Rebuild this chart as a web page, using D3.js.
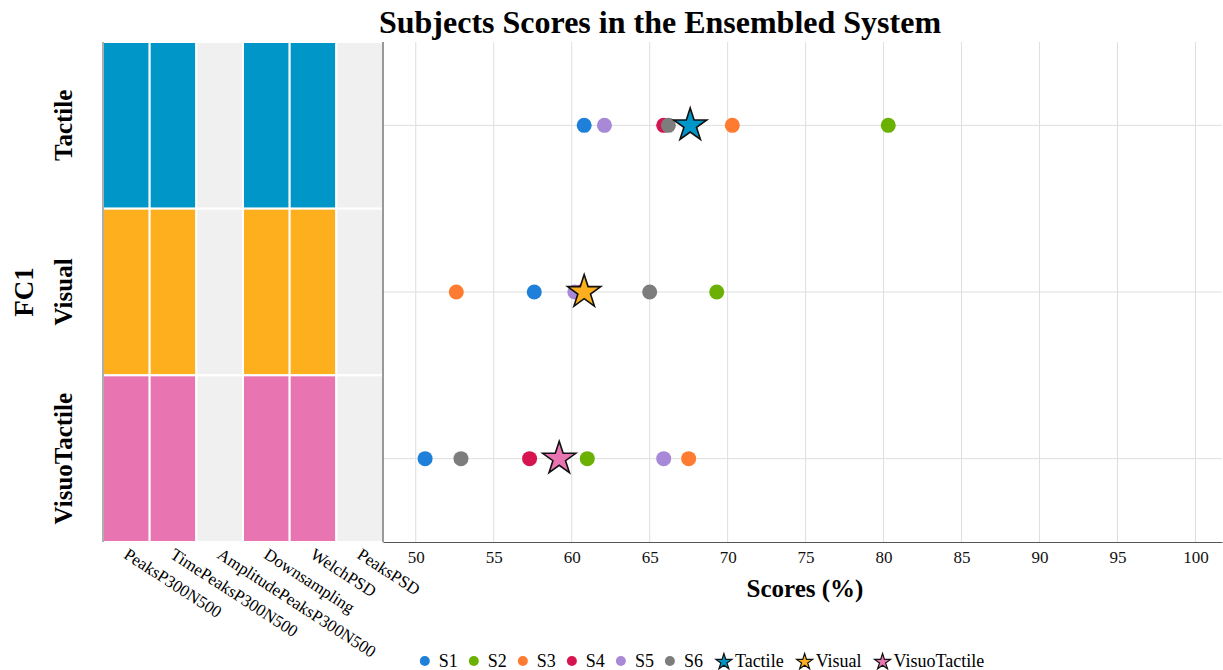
<!DOCTYPE html>
<html>
<head>
<meta charset="utf-8">
<script src="https://cdn.jsdelivr.net/npm/d3@7"></script>
<style>
  html, body { margin: 0; padding: 0; background: #fff; }
  svg { display: block; font-family: "Liberation Serif", "DejaVu Serif", serif; }
</style>
</head>
<body>
<svg id="chart" width="1223" height="670"></svg>
<script>
// Feature-set usage per modality (1 = used, 0 = not used)
const modalities = ["Tactile", "Visual", "VisuoTactile"];
const features = ["PeaksP300N500", "TimePeaksP300N500", "AmplitudePeaksP300N500", "Downsampling", "WelchPSD", "PeaksPSD"];
const usageTactile = [1, 1, 0, 1, 1, 0];
const usageVisual = [1, 1, 0, 1, 1, 0];
const usageVisuoTactile = [1, 1, 0, 1, 1, 0];

// Subject scores (%) per modality
const subjects = ["S1", "S2", "S3", "S4", "S5", "S6"];
const scoresTactile = [60.8, 80.3, 70.3, 65.9, 62.1, 66.2];
const scoresVisual = [57.6, 69.3, 52.6, 60.6, 60.2, 65.0];
const scoresVisuoTactile = [50.6, 61.0, 67.5, 57.3, 65.9, 52.9];
// Ensembled system score per modality
const systemScores = [67.6, 60.8, 59.2];

const xTicks = [50, 55, 60, 65, 70, 75, 80, 85, 90, 95, 100];

const subjectColors = ["#1e80d8", "#6ab104", "#fe7c31", "#d61450", "#a889d7", "#7d7d7d"];
const modalityColors = ["#0097c8", "#fdaf1e", "#e875b2"];
const offColor = "#f0f0f0";

const usage = [usageTactile, usageVisual, usageVisuoTactile];
const scores = [scoresTactile, scoresVisual, scoresVisuoTactile];

const svg = d3.select("#chart");

const plotTop = 42, plotBottom = 542;
const hmLeft = 103, hmRight = 383;
const spLeft = 383, spRight = 1222;

const y = d3.scaleBand().domain(modalities).range([plotTop, plotBottom]);
const xc = d3.scaleBand().domain(features).range([hmLeft, hmRight]);
const x = d3.scaleLinear().domain([47.9, 101.7]).range([spLeft, spRight]);

// Title
svg.append("text")
  .attr("x", 660).attr("y", 33)
  .attr("text-anchor", "middle")
  .attr("font-size", 32).attr("font-weight", "bold")
  .text("Subjects Scores in the Ensembled System");

// Heatmap cells
const cells = [];
modalities.forEach((m, i) => features.forEach((f, j) => cells.push({ m, f, i, on: usage[i][j] })));
svg.append("g").selectAll("rect").data(cells).join("rect")
  .attr("x", d => xc(d.f))
  .attr("y", d => y(d.m))
  .attr("width", xc.bandwidth())
  .attr("height", y.bandwidth())
  .attr("fill", d => d.on ? modalityColors[d.i] : offColor)
  .attr("stroke", "#fff").attr("stroke-width", 2);

// Heatmap left border
svg.append("line")
  .attr("x1", hmLeft).attr("x2", hmLeft).attr("y1", plotTop).attr("y2", plotBottom)
  .attr("stroke", "#777").attr("stroke-width", 1.2);

// Feature labels (rotated)
svg.append("g").selectAll("text").data(features).join("text")
  .attr("transform", d => `translate(${xc(d) + xc.bandwidth() / 2 + 3},${plotBottom + 5}) rotate(33)`)
  .attr("dy", "0.72em")
  .attr("font-size", 17)
  .text(d => d);

// Modality labels
svg.append("g").selectAll("text").data(modalities).join("text")
  .attr("transform", d => `translate(72,${y(d) + y.bandwidth() / 2}) rotate(-90)`)
  .attr("text-anchor", "middle")
  .attr("font-size", 25).attr("font-weight", "bold")
  .text(d => d);

svg.append("text")
  .attr("transform", `translate(33,${(plotTop + plotBottom) / 2}) rotate(-90)`)
  .attr("text-anchor", "middle")
  .attr("font-size", 27).attr("font-weight", "bold")
  .text("FC1");

// Scatter grid
const grid = svg.append("g");
grid.selectAll("line.v").data(xTicks).join("line").attr("class", "v")
  .attr("x1", d => x(d)).attr("x2", d => x(d))
  .attr("y1", plotTop).attr("y2", plotBottom)
  .attr("stroke", "#dedede").attr("stroke-width", 1);
grid.selectAll("line.h").data(modalities).join("line").attr("class", "h")
  .attr("x1", spLeft).attr("x2", spRight)
  .attr("y1", d => y(d) + y.bandwidth() / 2).attr("y2", d => y(d) + y.bandwidth() / 2)
  .attr("stroke", "#dedede").attr("stroke-width", 1);

// Axes
const xAxis = d3.axisBottom(x).tickValues(xTicks).tickSize(0).tickPadding(9);
const gx = svg.append("g").attr("transform", `translate(0,${plotBottom})`).call(xAxis);
gx.select(".domain").attr("stroke", "#555").attr("stroke-width", 1.2);
gx.selectAll("text").attr("font-size", 17).attr("font-family", "Liberation Serif").attr("fill", "#111");

svg.append("line")
  .attr("x1", spLeft).attr("x2", spLeft).attr("y1", plotTop).attr("y2", plotBottom)
  .attr("stroke", "#555").attr("stroke-width", 1.2);

svg.append("text")
  .attr("x", 805).attr("y", 597)
  .attr("text-anchor", "middle")
  .attr("font-size", 25).attr("font-weight", "bold")
  .text("Scores (%)");

// Subject points
const points = [];
modalities.forEach((m, i) => subjects.forEach((s, k) => points.push({ m, k, v: scores[i][k] })));
svg.append("g").selectAll("circle").data(points).join("circle")
  .attr("cx", d => x(d.v))
  .attr("cy", d => y(d.m) + y.bandwidth() / 2)
  .attr("r", 7.5)
  .attr("fill", d => subjectColors[d.k]);

// System score stars
const star = d3.symbol().type(d3.symbolStar).size(340);
svg.append("g").selectAll("path").data(modalities).join("path")
  .attr("transform", (d, i) => `translate(${x(systemScores[i])},${y(d) + y.bandwidth() / 2})`)
  .attr("d", star)
  .attr("fill", (d, i) => modalityColors[i])
  .attr("stroke", "#111").attr("stroke-width", 1.6);

// Legend
const legendItems = subjects.map((s, k) => ({ label: s, type: "dot", color: subjectColors[k] }))
  .concat(modalities.map((m, i) => ({ label: m, type: "star", color: modalityColors[i] })));
const legend = svg.append("g").attr("font-size", 18);
let lx = 0;
const ly = 661;
const items = legend.selectAll("g").data(legendItems).join("g");
items.each(function (d) {
  const g = d3.select(this);
  let tx;
  if (d.type === "dot") {
    g.append("circle").attr("cx", 5).attr("cy", 0).attr("r", 5).attr("fill", d.color);
    tx = 19;
  } else {
    g.append("path").attr("d", d3.symbol().type(d3.symbolStar).size(80))
      .attr("transform", "translate(10,1)")
      .attr("fill", d.color).attr("stroke", "#111").attr("stroke-width", 1.2);
    tx = 21;
  }
  const t = g.append("text").attr("x", tx).attr("y", 6).text(d.label);
  const w = t.node().getComputedTextLength();
  g.attr("transform", `translate(${lx},${ly})`);
  lx += tx + w + 11;
});
const totalW = lx - 11;
legend.attr("transform", `translate(${702 - totalW / 2},0)`);
</script>
</body>
</html>
